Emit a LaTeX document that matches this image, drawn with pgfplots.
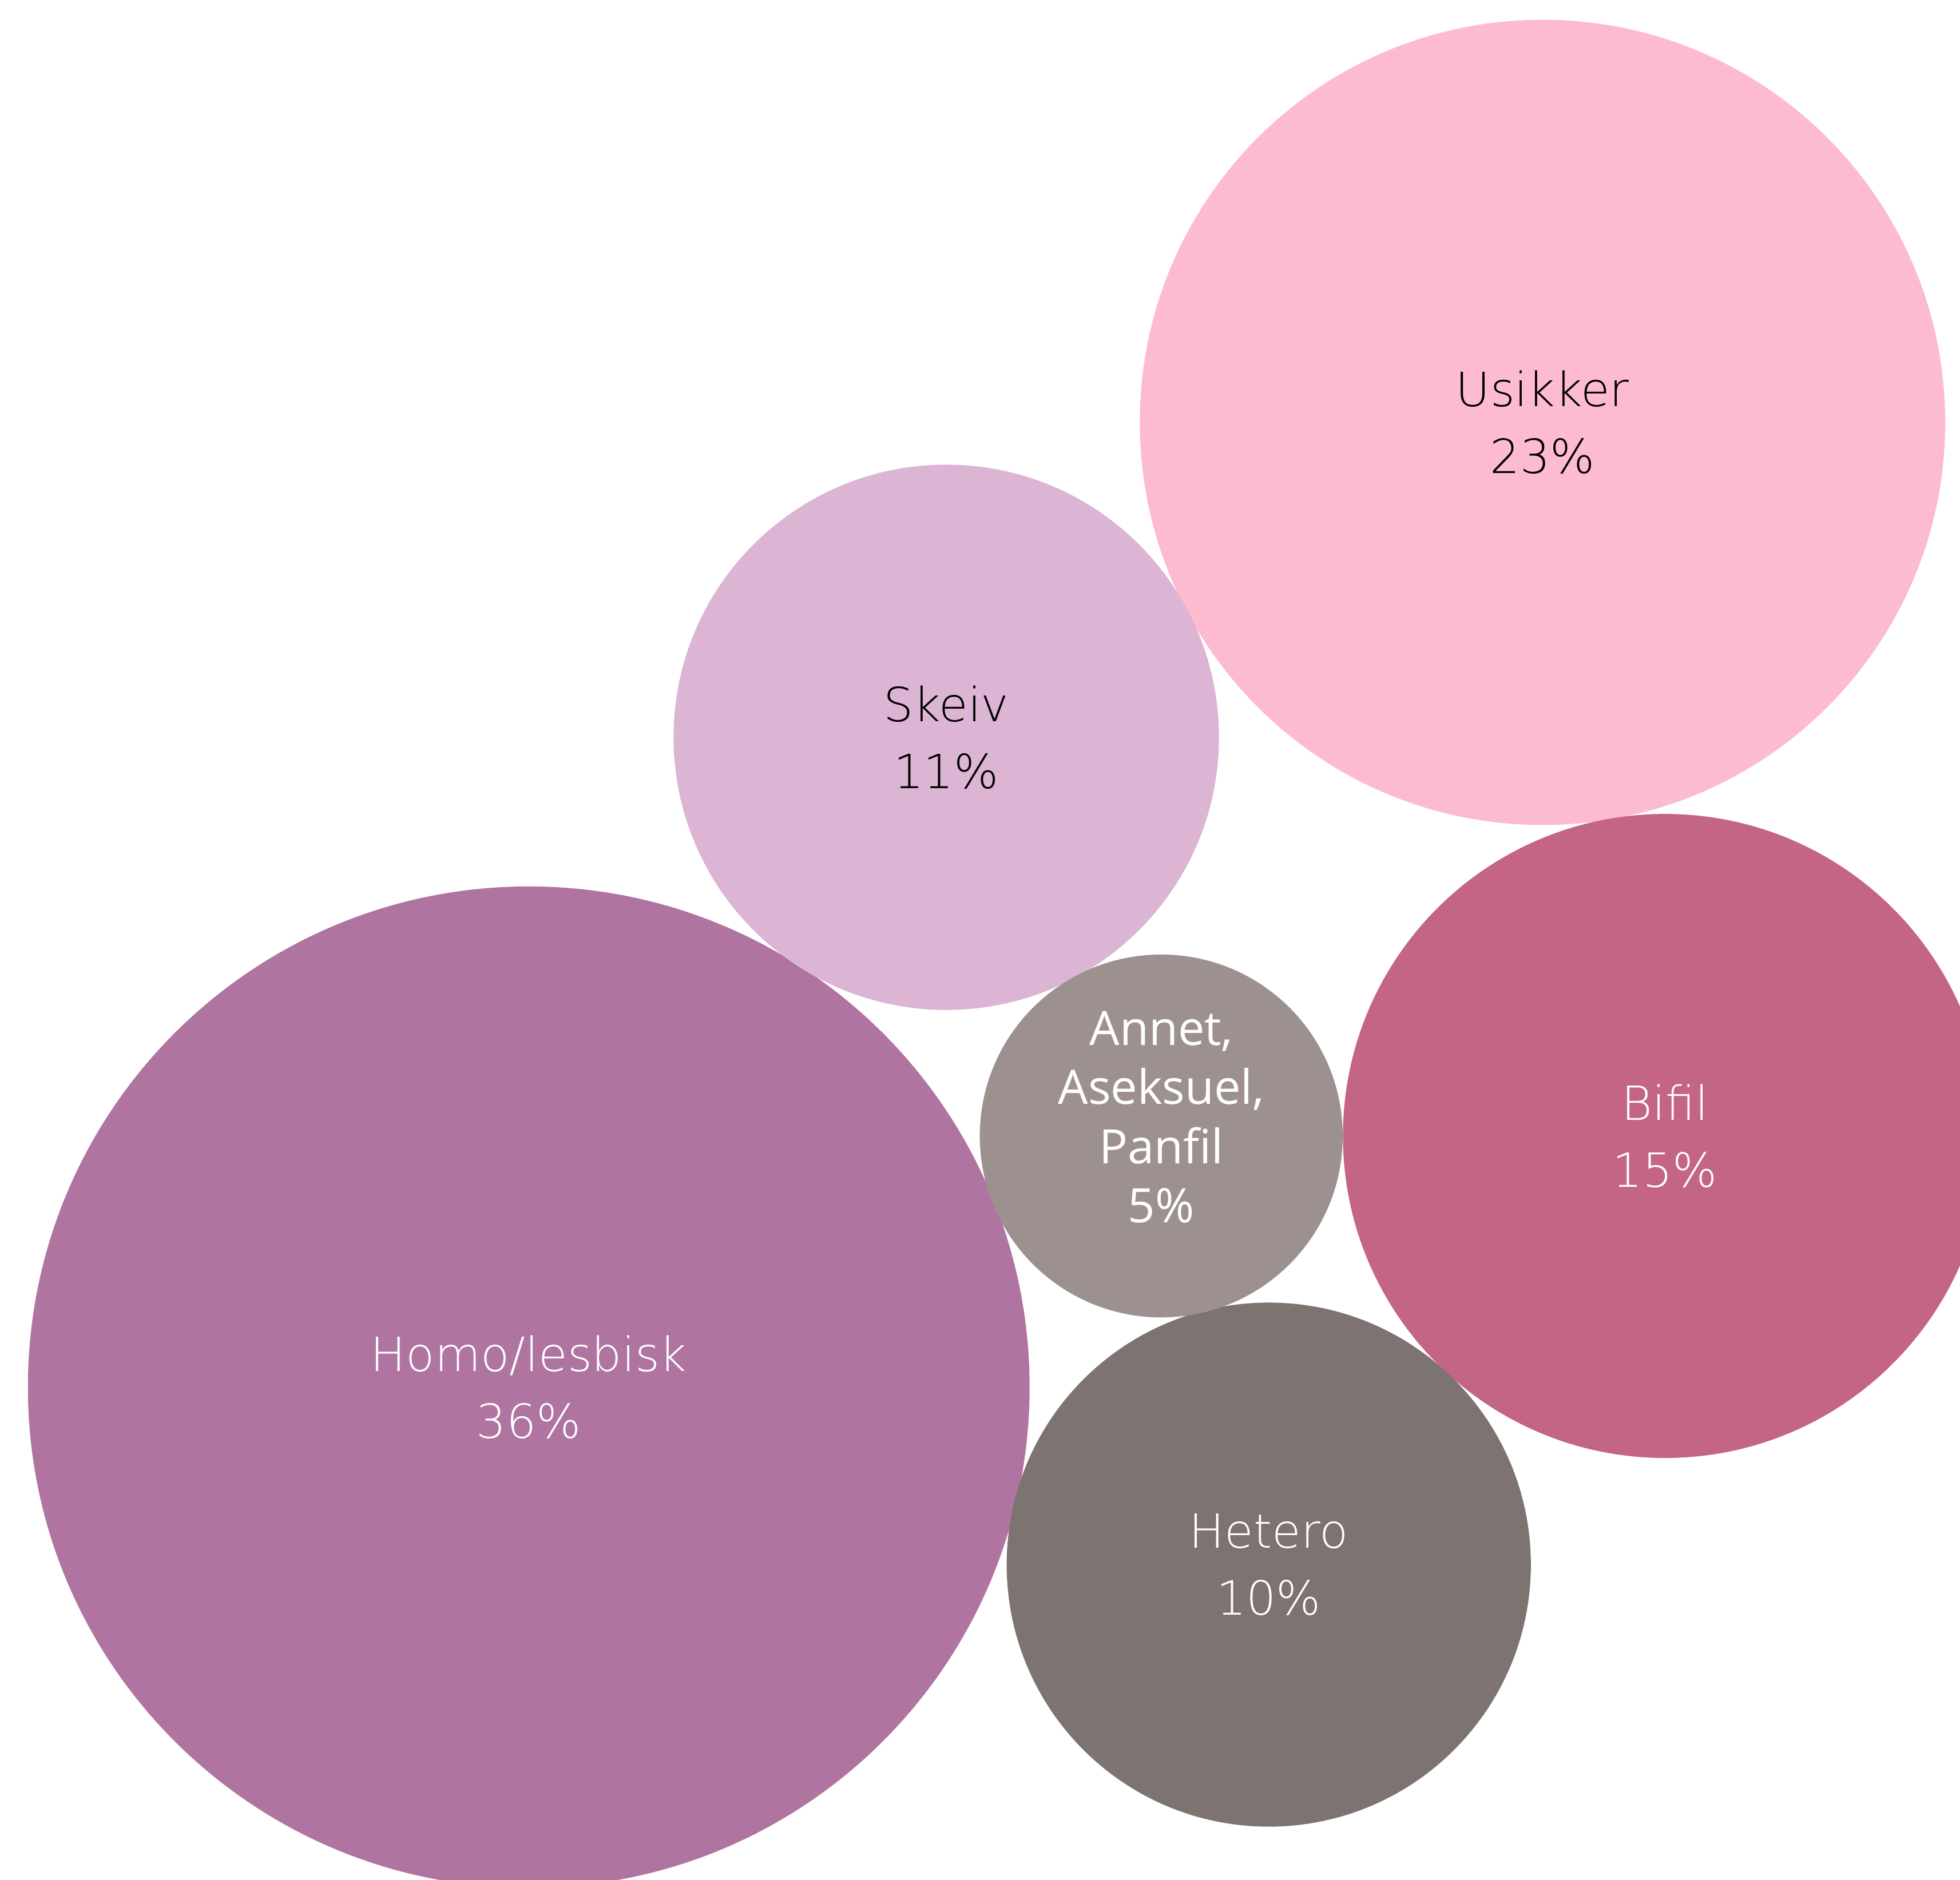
\documentclass[border=0pt]{standalone}
\usepackage{fontspec}
\setmainfont{DejaVu Sans}
\newfontfamily\lightfont{DejaVu Sans ExtraLight}
\newfontfamily\annetfont{Open Sans}
\usepackage{pgfplots}
\pgfplotsset{compat=1.18}
\definecolor{cHomo}{HTML}{B074A0}
\definecolor{cUsikker}{HTML}{FDBBD0}
\definecolor{cSkeiv}{HTML}{DCB5D5}
\definecolor{cAnnet}{HTML}{9C918E}
\definecolor{cBifil}{HTML}{C56585}
\definecolor{cHetero}{HTML}{7D7370}
\begin{document}
\begin{tikzpicture}
\useasboundingbox (0,0) rectangle (470.4pt,451.2pt);
\clip (0,0) rectangle (470.4pt,451.2pt);
\begin{axis}[
  at={(0,0)}, anchor=south west,
  x=0.3pt, y=0.3pt,
  xmin=0, xmax=1568, ymin=0, ymax=1504,
  y dir=reverse,
  hide axis,
  clip marker paths=true,
  every axis plot/.append style={only marks, mark=*},
  nodes near coords align=center,
  every node near coord/.append style={anchor=center, align=center,
     font={\lightfont\fontsize{11.3}{16.1}\selectfont}},
]
% Homo/lesbisk 36%
\addplot[color=cHomo, mark options={draw=cHomo, fill=cHomo}, mark size=120pt,
  nodes near coords={Homo/lesbisk\\36\%},
  every node near coord/.append style={text=white}]
  coordinates {(423,1110)};
% Usikker 23%
\addplot[color=cUsikker, mark options={draw=cUsikker, fill=cUsikker}, mark size=96.45pt,
  nodes near coords={Usikker\\23\%},
  every node near coord/.append style={text=black}]
  coordinates {(1234,338)};
% Skeiv 11%
\addplot[color=cSkeiv, mark options={draw=cSkeiv, fill=cSkeiv}, mark size=65.25pt,
  nodes near coords={Skeiv\\11\%},
  every node near coord/.append style={text=black}]
  coordinates {(757,590)};
% Bifil 15%
\addplot[color=cBifil, mark options={draw=cBifil, fill=cBifil}, mark size=77.1pt,
  nodes near coords={Bifil\\15\%},
  every node near coord/.append style={text=white}]
  coordinates {(1332,909)};
% Hetero 10%
\addplot[color=cHetero, mark options={draw=cHetero, fill=cHetero}, mark size=62.7pt,
  nodes near coords={Hetero\\10\%},
  every node near coord/.append style={text=white}]
  coordinates {(1015,1252)};
% Annet, Aseksuel, Panfil 5%
\addplot[color=cAnnet, mark options={draw=cAnnet, fill=cAnnet}, mark size=43.35pt,
  nodes near coords={Annet,\\Aseksuel,\\Panfil\\5\%},
  every node near coord/.append style={text=white, yshift=4.5pt,
     font={\annetfont\fontsize{11.4}{14.2}\selectfont}}]
  coordinates {(929,909)};
\end{axis}
\end{tikzpicture}
\end{document}
